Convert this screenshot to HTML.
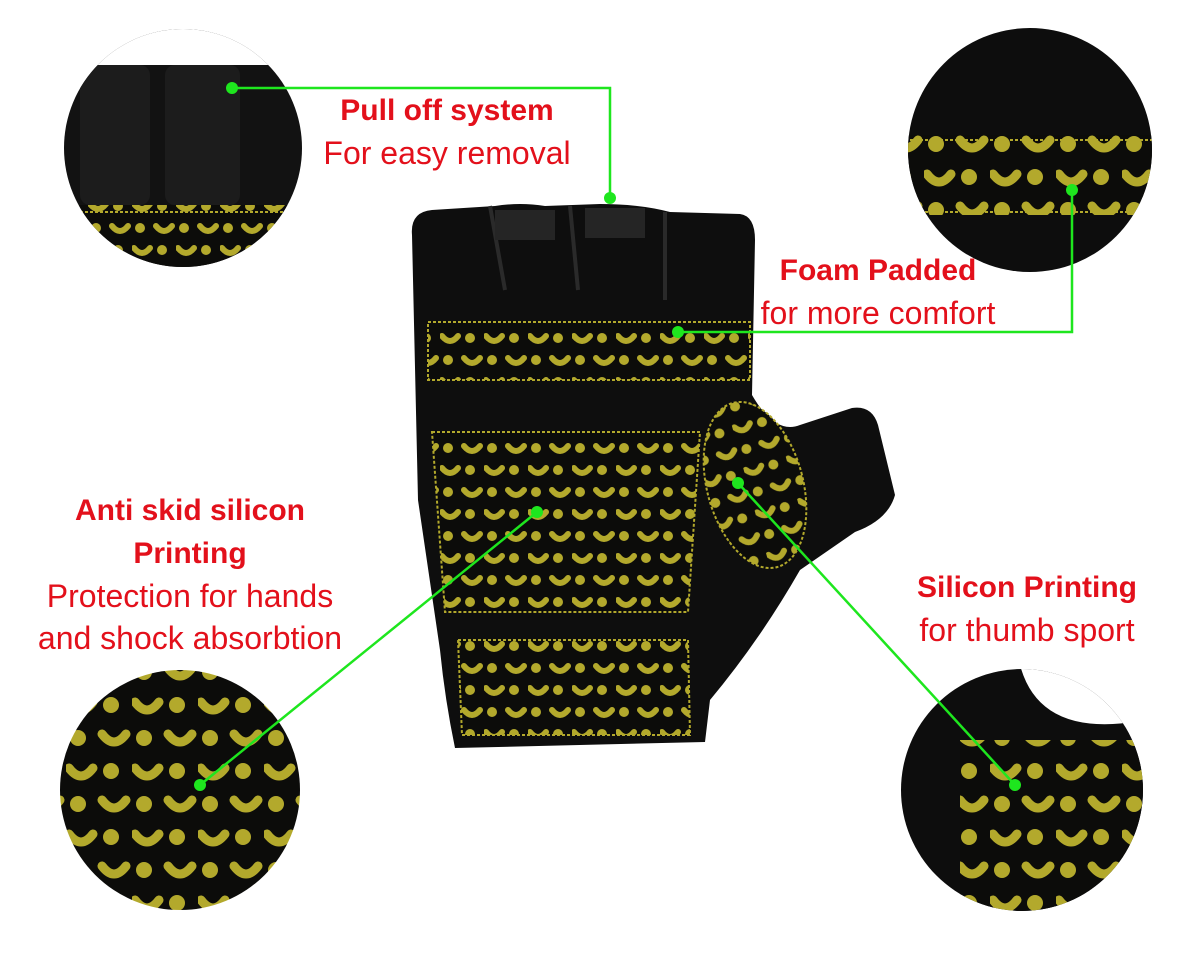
<!DOCTYPE html>
<html><head><meta charset="utf-8"><style>
html,body{margin:0;padding:0;background:#fff;width:1200px;height:960px;overflow:hidden}
svg{display:block}
.b{font-family:"Liberation Sans",sans-serif;font-weight:bold;fill:#e3101b;font-size:30px}
.n{font-family:"Liberation Sans",sans-serif;fill:#e3101b;font-size:32px}
</style></head><body>
<svg width="1200" height="960" viewBox="0 0 1200 960" xmlns="http://www.w3.org/2000/svg">
<defs>
<pattern id="dots" width="44" height="44" patternUnits="userSpaceOnUse">
<rect width="44" height="44" fill="#0c0c0a"/>
<circle cx="8" cy="8" r="5" fill="#b3a92c"/>
<path d="M24 6 Q32 16 40 6" stroke="#b3a92c" stroke-width="6" fill="none" stroke-linecap="round"/>
<circle cx="30" cy="30" r="5" fill="#b3a92c"/>
<path d="M2 28 Q10 38 18 28" stroke="#b3a92c" stroke-width="6" fill="none" stroke-linecap="round"/>
</pattern>
<pattern id="bigdots" width="66" height="66" patternUnits="userSpaceOnUse">
<rect width="66" height="66" fill="#0c0c0a"/>
<circle cx="12" cy="12" r="8" fill="#b3a92c"/>
<path d="M36 8 Q48 24 60 8" stroke="#b3a92c" stroke-width="9" fill="none" stroke-linecap="round"/>
<circle cx="45" cy="45" r="8" fill="#b3a92c"/>
<path d="M3 42 Q15 58 27 42" stroke="#b3a92c" stroke-width="9" fill="none" stroke-linecap="round"/>
</pattern>
<clipPath id="c1"><circle cx="183" cy="148" r="119"/></clipPath>
<clipPath id="c2"><circle cx="1030" cy="150" r="122"/></clipPath>
<clipPath id="c3"><circle cx="180" cy="790" r="120"/></clipPath>
<clipPath id="c4"><circle cx="1022" cy="790" r="121"/></clipPath>
</defs>

<g clip-path="url(#c1)">
<rect x="60" y="25" width="250" height="250" fill="#121212"/>
<rect x="60" y="25" width="250" height="40" fill="#fff"/>
<rect x="80" y="65" width="70" height="140" fill="#1c1c1c" rx="10"/>
<rect x="165" y="65" width="75" height="140" fill="#1c1c1c" rx="10"/>
<rect x="60" y="205" width="250" height="70" fill="url(#dots)"/>
<line x1="60" y1="212" x2="310" y2="212" stroke="#b3a92c" stroke-width="2" stroke-dasharray="3 2"/>
</g>
<g clip-path="url(#c2)">
<rect x="900" y="25" width="260" height="260" fill="#0d0d0d"/>
<rect x="900" y="135" width="260" height="80" fill="url(#bigdots)"/>
<line x1="900" y1="140" x2="1160" y2="140" stroke="#b3a92c" stroke-width="2" stroke-dasharray="3 2"/>
<line x1="900" y1="212" x2="1160" y2="212" stroke="#b3a92c" stroke-width="2" stroke-dasharray="3 2"/>
</g>
<g clip-path="url(#c3)"><rect x="55" y="665" width="250" height="250" fill="url(#bigdots)"/></g>
<g clip-path="url(#c4)">
<rect x="895" y="665" width="250" height="250" fill="#0d0d0d"/>
<rect x="960" y="740" width="185" height="180" fill="url(#bigdots)"/>
<path d="M1020 665 Q1040 740 1145 720 L1145 665 Z" fill="#fff"/>
</g>

<path d="M412 235 Q410 212 432 210 L495 206 Q520 202 545 206 L600 204 Q640 204 670 212 L740 214 Q755 216 755 240 L752 395 Q775 435 800 425 L852 408 Q872 405 878 425 L895 495 Q888 520 855 532 L800 570 Q760 640 710 700 L705 742 L455 748 Q445 700 440 650 L418 500 Z" fill="#0e0e0e"/>
<path d="M490 206 L505 290 M570 206 L578 290 M665 212 L665 300" stroke="#2a2a2a" stroke-width="4"/>
<rect x="495" y="210" width="60" height="30" fill="#252525"/>
<rect x="585" y="208" width="60" height="30" fill="#252525"/>
<rect x="428" y="322" width="322" height="58" fill="url(#dots)" stroke="#b3a92c" stroke-width="2" stroke-dasharray="3 2"/>
<path d="M432 432 L700 432 L688 612 L445 612 Z" fill="url(#dots)" stroke="#b3a92c" stroke-width="2" stroke-dasharray="3 2"/>
<path d="M458 640 L688 640 L690 735 L462 735 Z" fill="url(#dots)" stroke="#b3a92c" stroke-width="2" stroke-dasharray="3 2"/>
<ellipse cx="755" cy="485" rx="48" ry="85" transform="rotate(-15 755 485)" fill="url(#dots)" stroke="#b3a92c" stroke-width="2" stroke-dasharray="3 2"/>

<g stroke="#1ee61e" stroke-width="2.5" fill="none">
<polyline points="232,88 610,88 610,198"/>
<polyline points="1072,190 1072,332 678,332"/>
<line x1="200" y1="785" x2="537" y2="512"/>
<line x1="738" y1="483" x2="1015" y2="785"/>
</g>
<g fill="#1ee61e">
<circle cx="232" cy="88" r="6"/><circle cx="610" cy="198" r="6"/>
<circle cx="1072" cy="190" r="6"/><circle cx="678" cy="332" r="6"/>
<circle cx="200" cy="785" r="6"/><circle cx="537" cy="512" r="6"/>
<circle cx="738" cy="483" r="6"/><circle cx="1015" cy="785" r="6"/>
</g>

<text class="b" x="447" y="120" text-anchor="middle">Pull off system</text>
<text class="n" x="447" y="164" text-anchor="middle">For easy removal</text>
<text class="b" x="878" y="280" text-anchor="middle">Foam Padded</text>
<text class="n" x="878" y="324" text-anchor="middle">for more comfort</text>
<text class="b" x="190" y="520" text-anchor="middle">Anti skid silicon</text>
<text class="b" x="190" y="563" text-anchor="middle">Printing</text>
<text class="n" x="190" y="607" text-anchor="middle">Protection for hands</text>
<text class="n" x="190" y="649" text-anchor="middle">and shock absorbtion</text>
<text class="b" x="1027" y="597" text-anchor="middle">Silicon Printing</text>
<text class="n" x="1027" y="641" text-anchor="middle">for thumb sport</text>
</svg>
</body></html>
